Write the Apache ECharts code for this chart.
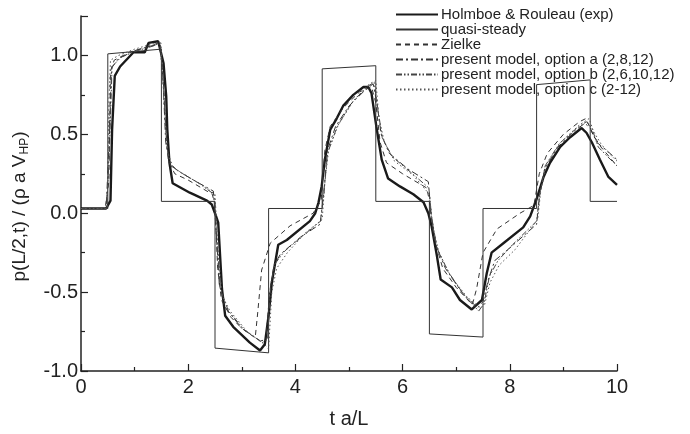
<!DOCTYPE html>
<html>
<head>
<meta charset="utf-8">
<script src="https://cdn.jsdelivr.net/npm/echarts@6/dist/echarts.min.js"></script>
<style>
  html, body { margin: 0; padding: 0; background: #fff; }
  #chart { width: 690px; height: 434px; }
</style>
</head>
<body>
<div id="chart"></div>
<script>
// t a/L , p(L/2,t)/(rho a V_HP)
var seriesNames = [
  'Holmboe & Rouleau (exp)',
  'quasi-steady',
  'Zielke',
  'present model, option a (2,8,12)',
  'present model, option b (2,6,10,12)',
  'present model, option c (2-12)'
]

var expData = [[0, 0.03], [0.47, 0.03], [0.55, 0.08], [0.58, 0.53], [0.63, 0.87], [0.73, 0.93], [0.98, 1.02], [1.19, 1.02], [1.26, 1.08], [1.44, 1.09], [1.54, 0.95], [1.59, 0.74], [1.61, 0.53], [1.65, 0.32], [1.71, 0.19], [2.03, 0.13], [2.35, 0.08], [2.44, 0.055], [2.5, 0.0], [2.56, -0.06], [2.63, -0.48], [2.69, -0.65], [2.84, -0.72], [3.15, -0.82], [3.34, -0.87], [3.43, -0.83], [3.5, -0.65], [3.56, -0.44], [3.68, -0.2], [3.84, -0.17], [4.27, -0.05], [4.37, 0.0], [4.43, 0.066], [4.49, 0.17], [4.55, 0.34], [4.65, 0.53], [4.77, 0.6], [4.89, 0.68], [5.08, 0.75], [5.27, 0.8], [5.36, 0.8], [5.42, 0.76], [5.51, 0.55], [5.61, 0.34], [5.73, 0.22], [5.95, 0.17], [6.2, 0.12], [6.39, 0.07], [6.48, 0.0], [6.54, -0.08], [6.64, -0.27], [6.71, -0.42], [6.92, -0.47], [7.07, -0.55], [7.29, -0.61], [7.48, -0.55], [7.57, -0.38], [7.66, -0.25], [7.88, -0.19], [8.25, -0.09], [8.38, -0.02], [8.5, 0.09], [8.63, 0.23], [8.75, 0.32], [8.94, 0.42], [9.12, 0.48], [9.34, 0.54], [9.43, 0.51], [9.53, 0.45], [9.68, 0.34], [9.84, 0.23], [10, 0.18]]

var quasiData = [[0, 0.03], [0.5, 0.03], [0.5, 1.01], [1.5, 1.04], [1.5, 0.075], [2.5, 0.075], [2.5, -0.855], [3.5, -0.885], [3.5, 0.03], [4.5, 0.03], [4.5, 0.915], [5.5, 0.935], [5.5, 0.075], [6.5, 0.075], [6.5, -0.765], [7.5, -0.785], [7.5, 0.03], [8.5, 0.03], [8.5, 0.815], [9.5, 0.845], [9.5, 0.075], [10, 0.075]]

var zielkeData = [[0, 0.03], [0.45, 0.03], [0.52, 0.2], [0.55, 0.9], [0.62, 0.97], [0.9, 1.02], [1.2, 1.05], [1.45, 1.08], [1.52, 0.95], [1.57, 0.6], [1.63, 0.33], [1.75, 0.25], [2.0, 0.21], [2.45, 0.12], [2.5, 0.05], [2.55, -0.35], [2.62, -0.55], [2.8, -0.66], [3.0, -0.73], [3.25, -0.79], [3.3, -0.62], [3.37, -0.36], [3.53, -0.19], [3.9, -0.08], [4.33, 0.0], [4.48, 0.08], [4.55, 0.4], [4.65, 0.55], [4.9, 0.67], [5.2, 0.77], [5.42, 0.8], [5.5, 0.7], [5.58, 0.45], [5.7, 0.32], [6.0, 0.25], [6.45, 0.16], [6.5, 0.08], [6.58, -0.15], [6.75, -0.35], [7.0, -0.47], [7.3, -0.58], [7.38, -0.48], [7.5, -0.25], [7.76, -0.1], [8.19, 0.0], [8.45, 0.05], [8.55, 0.25], [8.7, 0.38], [9.0, 0.5], [9.3, 0.58], [9.42, 0.6], [9.55, 0.5], [9.7, 0.42], [10, 0.3]]

var optAData = [[0, 0.03], [0.47, 0.03], [0.53, 0.5], [0.57, 0.92], [0.7, 0.98], [1.0, 1.03], [1.3, 1.06], [1.47, 1.07], [1.53, 0.85], [1.58, 0.45], [1.65, 0.32], [1.8, 0.27], [2.1, 0.21], [2.47, 0.14], [2.52, -0.1], [2.58, -0.45], [2.7, -0.6], [3.0, -0.73], [3.35, -0.81], [3.45, -0.8], [3.52, -0.5], [3.6, -0.33], [3.72, -0.26], [4.1, -0.15], [4.46, -0.07], [4.52, 0.1], [4.6, 0.4], [4.75, 0.55], [5.0, 0.68], [5.3, 0.78], [5.45, 0.82], [5.52, 0.7], [5.6, 0.5], [5.75, 0.38], [6.1, 0.28], [6.48, 0.2], [6.53, 0.0], [6.62, -0.2], [6.8, -0.35], [7.1, -0.5], [7.4, -0.6], [7.5, -0.56], [7.6, -0.42], [7.72, -0.3], [8.0, -0.22], [8.5, -0.07], [8.55, 0.1], [8.65, 0.28], [8.9, 0.42], [9.2, 0.52], [9.4, 0.57], [9.5, 0.54], [9.62, 0.45], [9.8, 0.4], [10, 0.34]]

var optBData = [[0, 0.03], [0.48, 0.03], [0.53, 0.4], [0.58, 0.93], [0.75, 0.99], [1.05, 1.03], [1.35, 1.06], [1.48, 1.08], [1.54, 0.8], [1.6, 0.42], [1.68, 0.3], [1.9, 0.25], [2.2, 0.19], [2.48, 0.12], [2.53, -0.15], [2.6, -0.48], [2.75, -0.62], [3.05, -0.74], [3.38, -0.82], [3.48, -0.8], [3.54, -0.45], [3.62, -0.32], [3.8, -0.24], [4.15, -0.14], [4.47, -0.05], [4.53, 0.12], [4.6, 0.38], [4.78, 0.55], [5.05, 0.7], [5.33, 0.8], [5.47, 0.83], [5.53, 0.68], [5.62, 0.48], [5.8, 0.36], [6.15, 0.26], [6.49, 0.16], [6.54, -0.02], [6.64, -0.22], [6.85, -0.37], [7.15, -0.52], [7.42, -0.62], [7.52, -0.57], [7.62, -0.4], [7.78, -0.3], [8.05, -0.2], [8.5, -0.05], [8.56, 0.12], [8.66, 0.3], [8.92, 0.44], [9.25, 0.54], [9.43, 0.58], [9.53, 0.54], [9.65, 0.42], [9.82, 0.36], [10, 0.3]]

var optCData = [[0, 0.03], [0.49, 0.03], [0.52, 0.7], [0.55, 0.97], [0.7, 1.0], [1.0, 1.04], [1.3, 1.07], [1.49, 1.08], [1.55, 0.7], [1.62, 0.38], [1.72, 0.29], [2.0, 0.23], [2.3, 0.17], [2.5, 0.12], [2.55, -0.2], [2.63, -0.52], [2.78, -0.62], [3.1, -0.75], [3.42, -0.83], [3.5, -0.86], [3.56, -0.5], [3.65, -0.35], [3.85, -0.25], [4.2, -0.12], [4.5, -0.04], [4.55, 0.2], [4.62, 0.4], [4.8, 0.56], [5.1, 0.72], [5.38, 0.82], [5.5, 0.84], [5.56, 0.6], [5.66, 0.45], [5.85, 0.33], [6.2, 0.24], [6.5, 0.12], [6.56, -0.08], [6.68, -0.25], [6.9, -0.4], [7.2, -0.53], [7.45, -0.6], [7.53, -0.58], [7.63, -0.44], [7.8, -0.33], [8.1, -0.23], [8.52, -0.04], [8.58, 0.15], [8.7, 0.32], [8.95, 0.45], [9.3, 0.56], [9.48, 0.6], [9.56, 0.52], [9.7, 0.44], [9.85, 0.38], [10, 0.33]]

var font = 'Liberation Sans, Arial, Helvetica, sans-serif'

function lineSeries (name, data, width, color, type) {
  return {
    name: name,
    type: 'line',
    data: data,
    symbol: 'none',
    silent: true,
    animation: false,
    lineStyle: { width: width, color: color, type: type },
    itemStyle: { color: color }
  }
}

var chart = echarts.init(document.getElementById('chart'))
var option = {
  backgroundColor: '#fff',
  textStyle: { fontFamily: font, color: '#222' },
  grid: { left: 81, right: 73, top: 16, bottom: 62 },
  legend: {
    orient: 'vertical',
    left: 395,
    top: 7,
    itemWidth: 42,
    itemHeight: 10,
    itemGap: 0,
    padding: 0,
    itemStyle: { opacity: 0 },
    textStyle: { fontSize: 15, lineHeight: 15, color: '#222', fontFamily: font, padding: [0, 0, 0, -2] },
    data: seriesNames
  },
  xAxis: {
    type: 'value',
    min: 0,
    max: 10,
    interval: 2,
    name: 't a/L',
    nameLocation: 'middle',
    nameGap: 38,
    nameTextStyle: { fontSize: 20, color: '#222' },
    axisLine: { onZero: false, lineStyle: { color: '#222', width: 1.5 } },
    axisTick: { inside: true, length: 7, lineStyle: { color: '#222', width: 1.2 } },
    minorTick: { show: true, splitNumber: 2, length: 4, lineStyle: { color: '#222', width: 1.2 } },
    axisLabel: { fontSize: 20, color: '#222', margin: 6 },
    splitLine: { show: false }
  },
  yAxis: {
    type: 'value',
    min: -1,
    max: 1.25,
    interval: 0.5,
    name: '{a|p(L/2,t) / (ρ a V}{s|HP}{a|)}',
    nameLocation: 'middle',
    nameGap: 50,
    nameTextStyle: {
      padding: [0, 26, 0, 0],
      rich: {
        a: { fontSize: 19, color: '#222', fontFamily: font, lineHeight: 22 },
        s: { fontSize: 12, color: '#222', fontFamily: font, verticalAlign: 'bottom', lineHeight: 22, padding: [8, 0, 0, 0] }
      }
    },
    axisLine: { show: true, onZero: false, lineStyle: { color: '#222', width: 1.5 } },
    axisTick: { show: true, inside: true, length: 7, lineStyle: { color: '#222', width: 1.2 } },
    minorTick: { show: true, splitNumber: 2, length: 4, lineStyle: { color: '#222', width: 1.2 } },
    axisLabel: {
      fontSize: 20,
      color: '#222',
      margin: 3,
      showMaxLabel: false,
      formatter: function (v) { return v.toFixed(1) }
    },
    splitLine: { show: false }
  },
  series: [
    lineSeries(seriesNames[0], expData, 2.4, '#1a1a1a', 'solid'),
    lineSeries(seriesNames[1], quasiData, 1, '#333', 'solid'),
    lineSeries(seriesNames[2], zielkeData, 1, '#333', [5, 4]),
    lineSeries(seriesNames[3], optAData, 1, '#333', [7, 3, 2, 3]),
    lineSeries(seriesNames[4], optBData, 1, '#444', [6, 2, 1.5, 2, 1.5, 2]),
    lineSeries(seriesNames[5], optCData, 1, '#555', [1.5, 2.5])
  ]
}
chart.setOption(option)
</script>
</body>
</html>
